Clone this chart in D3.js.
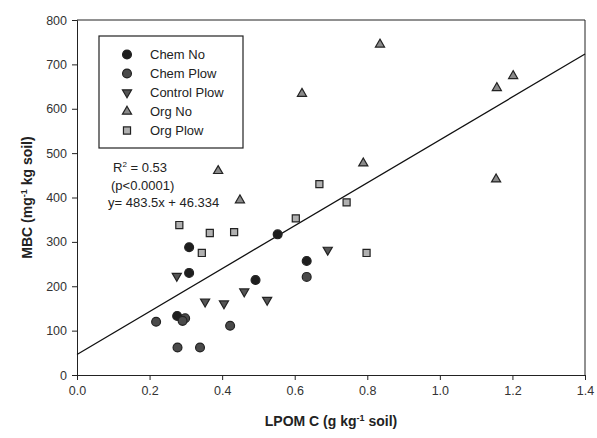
<!DOCTYPE html>
<meta charset="utf-8">
<style type="text/css">
body {
  margin: 0;
  background: #fff;
  font-family: "Liberation Sans", Arial, sans-serif;
}
.axis path,
.axis line {
  fill: none;
  stroke: #222;
}
.axis text {
  font-size: 12.5px;
  fill: #333;
}
</style>
<script src="https://cdnjs.cloudflare.com/ajax/libs/d3/7.8.5/d3.min.js"></script>
<body>
<div id="graph"></div>
<script>
// values
var seriesNames = ["Chem No", "Chem Plow", "Control Plow", "Org No", "Org Plow"];
var chemNoX = [0.309, 0.309, 0.276, 0.553, 0.633, 0.492];
var chemNoY = [288, 230, 133, 317, 257, 214];
var chemPlowX = [0.218, 0.298, 0.291, 0.277, 0.339, 0.422, 0.633];
var chemPlowY = [120, 128, 122, 62, 62, 111, 221];
var controlPlowX = [0.275, 0.353, 0.405, 0.461, 0.524, 0.691];
var controlPlowY = [223, 165, 161, 188, 169, 282];
var orgNoX = [0.389, 0.449, 0.62, 0.789, 0.835, 1.155, 1.157, 1.202];
var orgNoY = [460, 394, 634, 477, 745, 441, 647, 674];
var orgPlowX = [0.282, 0.344, 0.366, 0.433, 0.603, 0.668, 0.743, 0.798];
var orgPlowY = [338, 275, 320, 322, 353, 430, 389, 275];
var xTicks = [0, 0.2, 0.4, 0.6, 0.8, 1.0, 1.2, 1.4];
var yTicks = [0, 100, 200, 300, 400, 500, 600, 700, 800];
var slope = 483.5, intercept = 46.334;

var margin = {top: 20, right: 12, bottom: 63, left: 77},
    width = 597 - margin.left - margin.right,
    height = 438 - margin.top - margin.bottom;

var svg = d3.select("#graph").append("svg")
    .attr("width", 597)
    .attr("height", 438);
var g = svg.append("g")
    .attr("transform", "translate(" + margin.left + "," + margin.top + ")");

var x = d3.scaleLinear().domain([0, 1.4]).range([0, width]),
    y = d3.scaleLinear().domain([0, 800]).range([height, 0]);

var series = [
  {name: seriesNames[0], xs: chemNoX, ys: chemNoY, sym: d3.symbolCircle, size: 62, fill: "#1e1e1e"},
  {name: seriesNames[1], xs: chemPlowX, ys: chemPlowY, sym: d3.symbolCircle, size: 62, fill: "#4a4a4a"},
  {name: seriesNames[2], xs: controlPlowX, ys: controlPlowY, sym: "down", size: 36, fill: "#555"},
  {name: seriesNames[3], xs: orgNoX, ys: orgNoY, sym: d3.symbolTriangle, size: 36, fill: "#8a8a8a"},
  {name: seriesNames[4], xs: orgPlowX, ys: orgPlowY, sym: d3.symbolSquare, size: 50, fill: "#b0b0b0"}
];

function symPath(s) {
  if (s.sym == "down") return d3.symbol().type(d3.symbolTriangle).size(s.size)();
  return d3.symbol().type(s.sym).size(s.size)();
}
function symTransform(s, px, py) {
  var t = "translate(" + px + "," + py + ")";
  if (s.sym == "down") t += " rotate(180)";
  return t;
}

// axes
g.append("g")
    .attr("class", "axis")
    .attr("transform", "translate(0," + height + ")")
    .call(d3.axisBottom(x).tickValues(xTicks).tickFormat(d3.format(".1f")).tickSize(5).tickPadding(6));
g.append("g")
    .attr("class", "axis")
    .call(d3.axisLeft(y).tickValues(yTicks).tickSize(5).tickPadding(5));

// frame on top and right
g.append("line").attr("x1", 0).attr("x2", width).attr("y1", 0).attr("y2", 0)
    .attr("stroke", "#222");
g.append("line").attr("x1", width).attr("x2", width).attr("y1", 0).attr("y2", height)
    .attr("stroke", "#222");

// regression line
g.append("line")
    .attr("x1", x(0)).attr("y1", y(intercept))
    .attr("x2", x(1.4)).attr("y2", y(slope * 1.4 + intercept))
    .attr("stroke", "#111")
    .attr("stroke-width", 1.3);

// points
series.forEach(function(s) {
  var pts = s.xs.map(function(v, i) { return [v, s.ys[i]]; });
  g.selectAll(".pt-" + s.name.replace(" ", ""))
    .data(pts)
    .enter().append("path")
    .attr("d", symPath(s))
    .attr("transform", function(d) { return symTransform(s, x(d[0]), y(d[1])); })
    .style("fill", s.fill)
    .style("stroke", "#222")
    .style("stroke-width", 1.2);
});

// legend
var legend = svg.append("g").attr("transform", "translate(99,36)");
legend.append("rect")
    .attr("width", 144).attr("height", 112)
    .attr("fill", "#fff").attr("stroke", "#222").attr("stroke-width", 1.2);
series.forEach(function(s, i) {
  var ly = 18.5 + i * 19;
  legend.append("path")
      .attr("d", symPath(s))
      .attr("transform", symTransform(s, 28, ly))
      .style("fill", s.fill)
      .style("stroke", "#222")
      .style("stroke-width", 1.2);
  legend.append("text")
      .attr("x", 51).attr("y", ly + 4.5)
      .style("font-size", "13px").style("fill", "#222")
      .text(s.name);
});

// regression text
var ann = svg.append("g").style("font-size", "13px").style("fill", "#222");
var r2 = ann.append("text").attr("x", 113).attr("y", 172);
r2.append("tspan").text("R");
r2.append("tspan").attr("dy", -5).style("font-size", "8px").text("2");
r2.append("tspan").attr("dy", 5).text(" = 0.53");
ann.append("text").attr("x", 111).attr("y", 190).text("(p<0.0001)");
ann.append("text").attr("x", 108).attr("y", 207).text("y= 483.5x + 46.334");

// axis titles
var xt = svg.append("text")
    .attr("x", margin.left + width / 2).attr("y", 426)
    .attr("text-anchor", "middle")
    .style("font-size", "14px").style("font-weight", "bold").style("fill", "#222");
xt.append("tspan").text("LPOM C (g kg");
xt.append("tspan").attr("dy", -5).style("font-size", "9px").text("-1");
xt.append("tspan").attr("dy", 5).text(" soil)");

var yt = svg.append("text")
    .attr("transform", "translate(32," + (margin.top + height / 2) + ") rotate(-90)")
    .attr("text-anchor", "middle")
    .style("font-size", "14px").style("font-weight", "bold").style("fill", "#222");
yt.append("tspan").text("MBC (mg");
yt.append("tspan").attr("dy", -5).style("font-size", "9px").text("-1");
yt.append("tspan").attr("dy", 5).text(" kg soil)");
</script>
</body>
